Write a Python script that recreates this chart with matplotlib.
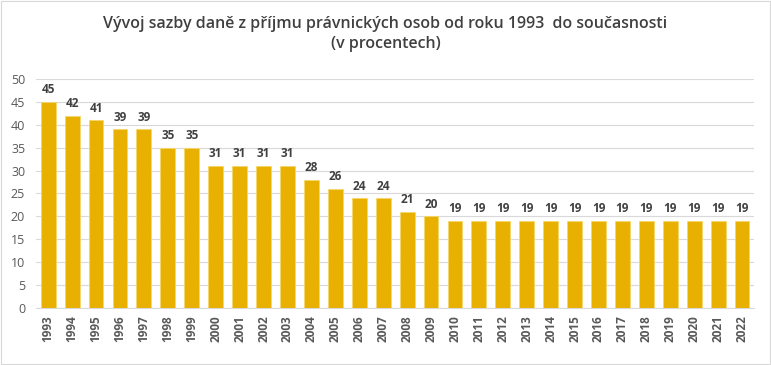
import matplotlib
matplotlib.use("Agg")
import matplotlib.pyplot as plt

years = [str(y) for y in range(1993, 2023)]
rates = [45, 42, 41, 39, 39, 35, 35, 31, 31, 31, 31, 28, 26, 24, 24, 21, 20,
         19, 19, 19, 19, 19, 19, 19, 19, 19, 19, 19, 19, 19]
title = "Vývoj sazby daně z příjmu právnických osob od roku 1993  do současnosti\n(v procentech)"

plt.rcParams['font.family'] = ['Open Sans', 'DejaVu Sans']
fig = plt.figure(figsize=(7.71, 3.65), dpi=100)
ax = fig.add_axes([0.047, 0.156, 0.931, 0.628])

x = range(len(years))
bars = ax.bar(x, rates, width=0.62, color="#E8B000", edgecolor="#F6D66A", linewidth=0.6, zorder=3)
for xi, v in zip(x, rates):
    ax.text(xi, v + 1.2, str(v), ha="center", va="bottom", fontsize=8.5, fontweight="bold", color="#404040")

ax.set_ylim(0, 50)
ax.set_xlim(-0.5, len(years) - 0.5)
ax.set_yticks(range(0, 51, 5))
ax.set_xticks(list(x))
ax.set_xticklabels(years, rotation=90, fontsize=8.5, fontweight="bold", color="#595959")
ax.tick_params(axis="y", labelsize=9, colors="#595959", length=0, pad=8)
ax.tick_params(axis="x", length=0, pad=5)
ax.grid(axis="y", color="#D9D9D9", linewidth=0.8, zorder=0)
for s in ["top", "right", "left"]:
    ax.spines[s].set_visible(False)
ax.spines["bottom"].set_color("#D9D9D9")

fig.text(0.5, 0.955, title, ha="center", va="top", fontsize=11.5, color="#404040",
         linespacing=1.3, fontweight="semibold")
fig.patches.append(plt.Rectangle((0.001, 0.003), 0.998, 0.994, transform=fig.transFigure,
                                 fill=False, edgecolor="#D9D9D9", linewidth=0.8))
fig.savefig("out.png", dpi=100)
